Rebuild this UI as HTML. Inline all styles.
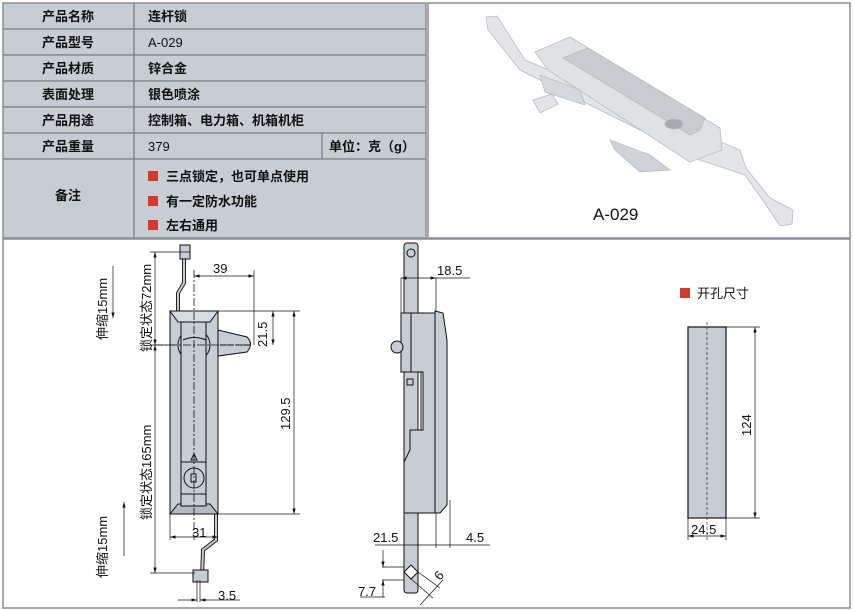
<!DOCTYPE html>
<html><head><meta charset="utf-8"><style>
body{margin:0;background:#fff}
svg{display:block;font-family:"Liberation Sans","Noto Sans CJK SC",sans-serif}
</style></head><body>
<svg width="853" height="610" viewBox="0 0 853 610" xmlns="http://www.w3.org/2000/svg">
<defs>
<marker id="a" viewBox="0 0 10 6" refX="10" refY="3" markerWidth="8" markerHeight="5" orient="auto-start-reverse"><path d="M0,0 L10,3 L0,6 Z" fill="#111"/></marker>
</defs>
<rect x="0" y="0" width="853" height="610" fill="#fff"/>
<!-- table -->
<g stroke="#8a8f94" stroke-width="1.5" fill="#c6cdd4">
<rect x="3" y="3" width="131" height="26"/><rect x="134" y="3" width="292" height="26"/>
<rect x="3" y="29" width="131" height="26"/><rect x="134" y="29" width="292" height="26"/>
<rect x="3" y="55" width="131" height="26"/><rect x="134" y="55" width="292" height="26"/>
<rect x="3" y="81" width="131" height="26"/><rect x="134" y="81" width="292" height="26"/>
<rect x="3" y="107" width="131" height="26"/><rect x="134" y="107" width="292" height="26"/>
<rect x="3" y="133" width="131" height="26"/><rect x="134" y="133" width="188" height="26"/><rect x="322" y="133" width="104" height="26"/>
<rect x="3" y="159" width="131" height="79"/><rect x="134" y="159" width="292" height="79"/>
</g>
<g font-size="13" fill="#111" font-weight="bold">
<text x="68" y="21" text-anchor="middle">产品名称</text>
<text x="68" y="47" text-anchor="middle">产品型号</text>
<text x="68" y="73" text-anchor="middle">产品材质</text>
<text x="68" y="99" text-anchor="middle">表面处理</text>
<text x="68" y="125" text-anchor="middle">产品用途</text>
<text x="68" y="151" text-anchor="middle">产品重量</text>
<text x="68" y="200" text-anchor="middle">备注</text>
<text x="148" y="21">连杆锁</text>
<text x="148" y="47" font-weight="normal">A-029</text>
<text x="148" y="73">锌合金</text>
<text x="148" y="99">银色喷涂</text>
<text x="148" y="125">控制箱、电力箱、机箱机柜</text>
<text x="148" y="151" font-weight="normal">379</text>
<text x="329" y="151">单位：克（g）</text>
<text x="166" y="181">三点锁定，也可单点使用</text>
<text x="166" y="206">有一定防水功能</text>
<text x="166" y="230">左右通用</text>
</g>
<g fill="#d23a2e"><rect x="148" y="171" width="10" height="10"/><rect x="148" y="196" width="10" height="10"/><rect x="148" y="220" width="10" height="10"/></g>
<!-- photo frame -->
<rect x="428" y="3" width="422" height="235" fill="#fff" stroke="#8a8f94" stroke-width="1.5"/>
<g stroke="#b8bcc0" stroke-width="0.8">
<polygon points="486,17 497,16 525,60 740,150 746,168 770,198 793,210 792,224 780,226 766,205 745,175 700,160 520,70 488,30" fill="#e3e5e8"/>
<polygon points="535,52 570,37 720,128 722,150 690,162 548,70" fill="#dfe2e5"/>
<polygon points="563,58 588,48 705,118 700,130 690,135" fill="#c9cdd1"/>
<polygon points="540,75 580,90 585,105 545,92" fill="#d5d8dc"/>
<polygon points="533,100 552,94 558,104 540,113" fill="#e2e4e7"/>
<polygon points="610,140 650,155 670,170 640,172 615,150" fill="#cfd2d6"/>
<ellipse cx="674" cy="124" rx="9" ry="5" fill="#a8acb0"/>
</g>
<text x="593" y="220" font-size="17" fill="#111">A-029</text>
<!-- bottom panel -->
<rect x="3" y="239" width="847" height="369" fill="#fff" stroke="#8a8f94" stroke-width="1.5"/>
<!-- front view -->
<g stroke="#111" stroke-width="1" fill="none">
<polyline points="184,252 184,283 178,293 178,311" stroke-width="4" stroke="#222"/>
<polyline points="184,252 184,283 178,293 178,311" stroke-width="2" stroke="#c6cdd4"/>
<rect x="180" y="245" width="10" height="14" fill="#c6cdd4"/>
<polyline points="216,514 216,540 203,550 202,578" stroke-width="4" stroke="#222"/>
<polyline points="216,514 216,540 203,550 202,578" stroke-width="2" stroke="#c6cdd4"/>
<rect x="193" y="570" width="15" height="12" fill="#c6cdd4"/>
<rect x="170" y="311" width="48" height="203" fill="#c6cdd4"/>
<polygon points="170,311 218,311 210,322 178,322" fill="#d7dce1"/>
<polygon points="170,514 218,514 210,504 178,504" fill="#b4bbc2"/>
<path d="M218,330 L247,337 Q254,344 247,352 L218,356 Z" fill="#c6cdd4"/>
<line x1="220" y1="345" x2="250" y2="345" stroke-dasharray="6,2"/>
<circle cx="194" cy="345" r="16" fill="#c6cdd4"/>
<rect x="181" y="322" width="25" height="184" fill="#c6cdd4"/>
<path d="M183,340 Q194,335 206,340" />
<rect x="181" y="462" width="25" height="32" fill="#c6cdd4"/>
<circle cx="194" cy="478" r="10"/>
<rect x="191" y="474" width="5" height="8"/>
<polygon points="194,454 197,460 191,460"/>
<line x1="194" y1="270" x2="194" y2="540" stroke-dasharray="8,2,2,2" stroke-width="0.8"/>
<line x1="155" y1="345" x2="250" y2="345" stroke-dasharray="8,2,2,2" stroke-width="0.8"/>
</g>
<g stroke="#111" stroke-width="0.7" fill="none">
<line x1="150" y1="252" x2="190" y2="252"/>
<line x1="150" y1="345" x2="175" y2="345"/>
<line x1="150" y1="573" x2="195" y2="573"/>
<line x1="155" y1="252" x2="155" y2="345" marker-start="url(#a)" marker-end="url(#a)"/>
<line x1="155" y1="345" x2="155" y2="573" marker-start="url(#a)" marker-end="url(#a)"/>
<line x1="194" y1="276" x2="254" y2="276" marker-start="url(#a)" marker-end="url(#a)"/>
<line x1="254" y1="270" x2="254" y2="345"/>
<line x1="218" y1="311" x2="300" y2="311"/>
<line x1="218" y1="514" x2="300" y2="514"/>
<line x1="294" y1="311" x2="294" y2="514" marker-start="url(#a)" marker-end="url(#a)"/>
<line x1="273" y1="311" x2="273" y2="345" marker-start="url(#a)" marker-end="url(#a)"/>
<line x1="170" y1="514" x2="170" y2="540"/>
<line x1="170" y1="537" x2="218" y2="537" marker-start="url(#a)" marker-end="url(#a)"/>
<line x1="178" y1="600" x2="197" y2="600" marker-end="url(#a)"/>
<line x1="240" y1="600" x2="200" y2="600" marker-end="url(#a)"/>
<line x1="197" y1="580" x2="197" y2="602"/>
<line x1="200" y1="580" x2="200" y2="602"/>
<line x1="113" y1="266" x2="113" y2="318" marker-end="url(#a)"/>
<line x1="124" y1="556" x2="124" y2="502" marker-end="url(#a)"/>
</g>
<g font-size="13" fill="#111">
<text x="213" y="273">39</text>
<text x="192" y="537">31</text>
<text x="218" y="600">3.5</text>
<text transform="translate(267,347) rotate(-90)">21.5</text>
<text transform="translate(290,430) rotate(-90)">129.5</text>
<text transform="translate(107,340) rotate(-90)">伸缩15mm</text>
<text transform="translate(107,578) rotate(-90)">伸缩15mm</text>
<text transform="translate(151,352) rotate(-90)">锁定状态72mm</text>
<text transform="translate(151,520) rotate(-90)">锁定状态165mm</text>
</g>
<!-- side view -->
<g stroke="#111" stroke-width="1" fill="#c6cdd4">
<rect x="404" y="243" width="14" height="350" rx="3"/>
<polygon points="435,311 443,313 447,340 447,505 440,513 435,513"/>
<polygon points="401,313 435,313 435,513 404,513 404,462 410,450 410,430 423,430 423,372 401,372"/>
<line x1="411" y1="313" x2="411" y2="372" fill="none"/>
<line x1="421" y1="372" x2="421" y2="430" fill="none"/>
<circle cx="397" cy="347" r="6"/>
<rect x="407" y="379" width="6" height="6"/>
<circle cx="411" cy="253" r="4" fill="none"/>
<polygon points="411,565 418,572 411,579 404,572" fill="#fff"/>
</g>
<g stroke="#111" stroke-width="0.7" fill="none">
<line x1="401" y1="278" x2="436" y2="278" marker-start="url(#a)" marker-end="url(#a)"/>
<line x1="436" y1="278" x2="470" y2="278"/>
<line x1="436" y1="278" x2="436" y2="311"/>
<line x1="401" y1="278" x2="401" y2="313"/>
<line x1="375" y1="545" x2="490" y2="545"/>
<line x1="436" y1="513" x2="436" y2="548"/>
<line x1="450" y1="500" x2="450" y2="548"/>
<line x1="382" y1="567" x2="404" y2="567"/><line x1="382" y1="580" x2="404" y2="580"/>
<line x1="383" y1="550" x2="383" y2="567" marker-end="url(#a)"/>
<line x1="383" y1="597" x2="383" y2="580" marker-end="url(#a)"/>
<line x1="360" y1="597" x2="385" y2="597"/>
<line x1="411" y1="579" x2="433" y2="598"/>
<line x1="418" y1="572" x2="440" y2="588"/>
<line x1="420" y1="605" x2="443" y2="580"/>
</g>
<g font-size="13" fill="#111">
<text x="437" y="275">18.5</text>
<text x="373" y="542">21.5</text>
<text x="466" y="542">4.5</text>
<text x="358" y="596">7.7</text>
<text transform="translate(440,581) rotate(-50)">6</text>
</g>
<!-- cutout -->
<rect x="680" y="288" width="10" height="10" fill="#d23a2e"/>
<text x="697" y="298" font-size="13" fill="#111">开孔尺寸</text>
<rect x="688" y="327" width="38" height="191" fill="#c6cdd4" stroke="#222" stroke-width="1.3"/>
<line x1="707" y1="322" x2="707" y2="540" stroke="#444" stroke-dasharray="3,2" stroke-width="0.8"/>
<g stroke="#111" stroke-width="0.7"><line x1="726" y1="327" x2="760" y2="327"/><line x1="726" y1="518" x2="760" y2="518"/><line x1="755" y1="327" x2="755" y2="518" marker-start="url(#a)" marker-end="url(#a)"/><line x1="688" y1="518" x2="688" y2="540"/><line x1="726" y1="518" x2="726" y2="540"/><line x1="688" y1="536" x2="726" y2="536" marker-start="url(#a)" marker-end="url(#a)"/></g>
<text transform="translate(751,436) rotate(-90)" font-size="13" fill="#111">124</text>
<text x="691" y="534" font-size="13" fill="#111">24.5</text>
</svg>
</body></html>
